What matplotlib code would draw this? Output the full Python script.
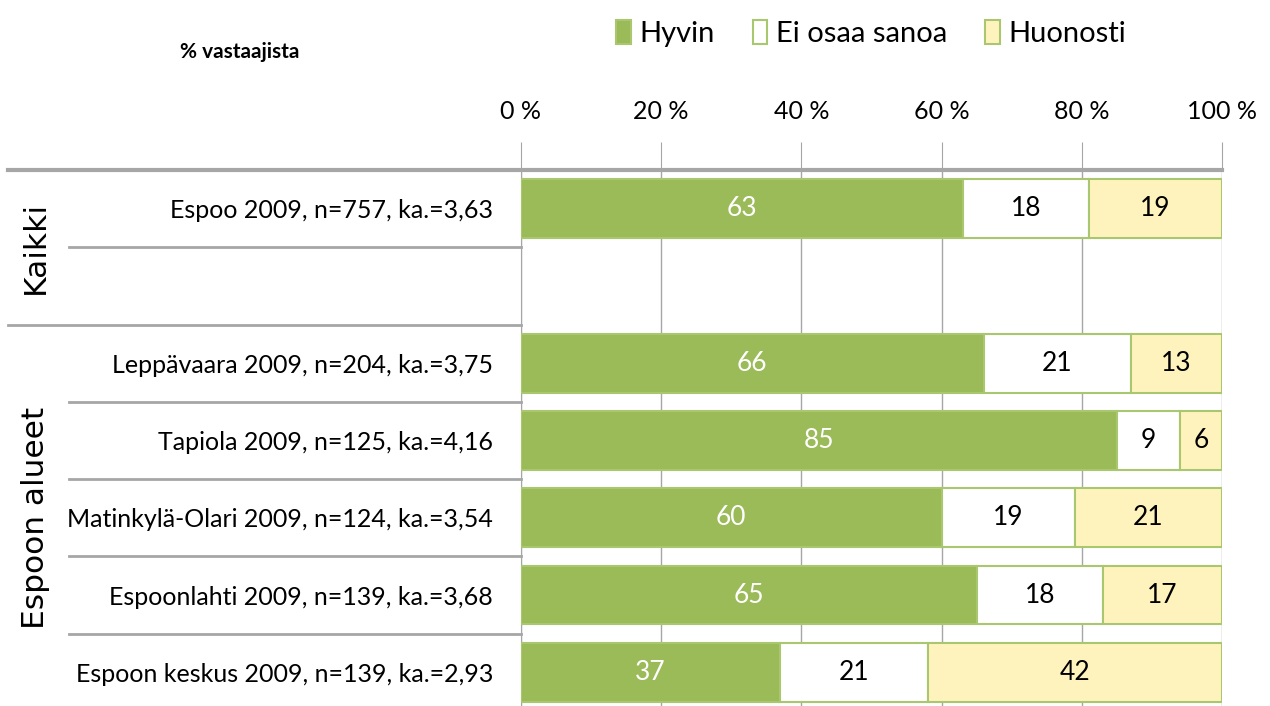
import numpy as np
import matplotlib
matplotlib.use('Agg')
import matplotlib.pyplot as plt
from matplotlib.patches import Patch

plt.rcParams['font.family'] = ['Lato', 'DejaVu Sans']

#%% data
labels = ['Espoo 2009, n=757, ka.=3,63',
          '',
          'Leppävaara 2009, n=204, ka.=3,75',
          'Tapiola 2009, n=125, ka.=4,16',
          'Matinkylä-Olari 2009, n=124, ka.=3,54',
          'Espoonlahti 2009, n=139, ka.=3,68',
          'Espoon keskus 2009, n=139, ka.=2,93']
hyvin = [63, np.nan, 66, 85, 60, 65, 37]
ei_osaa = [18, np.nan, 21, 9, 19, 18, 21]
huonosti = [19, np.nan, 13, 6, 21, 17, 42]
series_names = ['Hyvin', 'Ei osaa sanoa', 'Huonosti']
groups = ['Kaikki', 'Espoon alueet']
group_rows = [(0, 1), (2, 6)]
xticks = [0, 20, 40, 60, 80, 100]

green = '#9BBB59'
yellow = '#FFF3BD'
edge = '#A9C76E'
grey = '#A6A6A6'

#%%
fig = plt.figure(figsize=(12.7, 7.06), dpi=100)
ax = fig.add_axes([0.4102, -0.0071, 0.552, 0.7663])

y = np.arange(len(labels))
h = np.array(hyvin)
e = np.array(ei_osaa)
u = np.array(huonosti)
colors = [green, 'white', yellow]
lefts = [np.zeros(len(h)), h, h + e]
for vals, left, col in zip([h, e, u], lefts, colors):
    bars = ax.barh(y, vals, left=left, height=0.76, color=col,
                   edgecolor=edge, linewidth=1.5, zorder=3)
    for b, v in zip(bars, vals):
        if np.isnan(v):
            continue
        tc = 'white' if col == green else 'black'
        ax.text(b.get_x() + b.get_width() / 2, b.get_y() + b.get_height() / 2,
                '%d' % v, ha='center', va='center', color=tc, fontsize=19,
                zorder=4)

ax.set_xlim(0, 100)
ax.set_ylim(len(labels) - 0.5, -0.5)
ax.xaxis.tick_top()
ax.set_xticks(xticks)
ax.set_xticklabels(['%d %%' % t for t in xticks], fontsize=18)
ax.tick_params(axis='x', length=20, color=grey, pad=14)
ax.set_yticks(y)
ax.set_yticklabels(labels, fontsize=18)
ax.tick_params(axis='y', length=0, pad=20)
ax.grid(axis='x', color=grey, linewidth=1, zorder=0)
for s in ['right', 'bottom']:
    ax.spines[s].set_visible(False)
ax.spines['left'].set_color(grey)
ax.spines['top'].set_visible(False)

# row separators on the left
tr = ax.get_yaxis_transform()
full_x = -0.732
inner_x = -0.645
ax.plot([full_x, 1], [-0.5, -0.5], transform=tr, color=grey, lw=3,
        clip_on=False, zorder=5)
for r0, r1 in group_rows:
    ax.plot([full_x, 0], [r1 + 0.5, r1 + 0.5], transform=tr, color=grey,
            lw=2, clip_on=False)
    for k in range(r0, r1):
        ax.plot([inner_x, 0], [k + 0.5, k + 0.5], transform=tr, color=grey,
                lw=2, clip_on=False)
for g, (r0, r1) in zip(groups, group_rows):
    ax.text(-0.693, (r0 + r1) / 2, g, transform=tr, rotation=90,
            ha='center', va='center', fontsize=22.5, family='DejaVu Sans')

fig.text(0.189, 0.926, '% vastaajista', fontsize=15, fontweight='bold',
         ha='center', va='center')

handles = [Patch(facecolor=c, edgecolor=edge, linewidth=1.5) for c in colors]
fig.legend(handles, series_names, loc='center', bbox_to_anchor=(0.686, 0.953),
           ncol=3, frameon=False, fontsize=21, handlelength=0.5,
           handleheight=0.9, handletextpad=0.3, columnspacing=1.3)

plt.savefig('out.png', dpi=100)
plt.close()
